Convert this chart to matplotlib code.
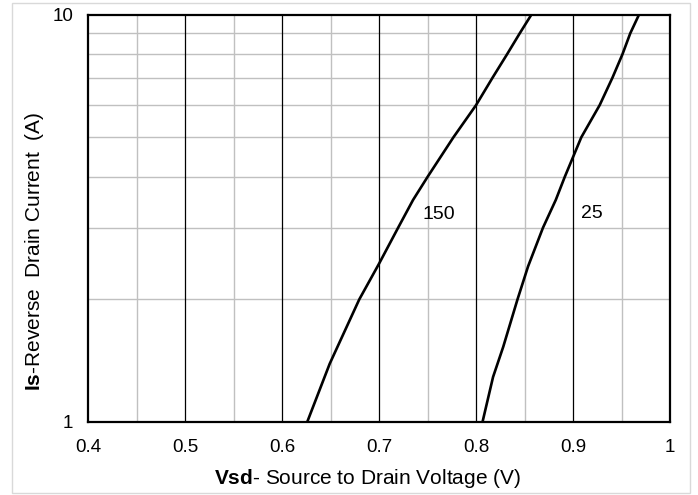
import matplotlib
matplotlib.use("Agg")
import matplotlib.pyplot as plt
from matplotlib.patches import Rectangle
from matplotlib.ticker import FixedLocator, NullFormatter

plt.rcParams['font.family'] = ['Liberation Sans', 'DejaVu Sans']
plt.rcParams['mathtext.fontset'] = 'custom'
plt.rcParams['mathtext.rm'] = 'Liberation Sans'
plt.rcParams['mathtext.bf'] = 'Liberation Sans:bold'

# Data
v_150 = [0.6258, 0.649, 0.6795, 0.700, 0.7196, 0.735, 0.750, 0.7766, 0.800, 0.8169, 0.832, 0.845, 0.857]
i_150 = [1.0, 1.39, 2.0, 2.45, 3.0, 3.51, 4.0, 5.0, 6.0, 7.0, 8.0, 9.0, 10.0]
v_25 = [0.8066, 0.8175, 0.828, 0.8427, 0.8536, 0.869, 0.8822, 0.8915, 0.9085, 0.9275, 0.9406, 0.951, 0.959, 0.968]
i_25 = [1.0, 1.29, 1.53, 2.0, 2.41, 3.0, 3.51, 4.0, 5.0, 6.0, 7.0, 8.0, 9.0, 10.0]
x_ticks = [0.4, 0.5, 0.6, 0.7, 0.8, 0.9, 1.0]
x_tick_labels = ["0.4", "0.5", "0.6", "0.7", "0.8", "0.9", "1"]
x_minor = [0.45, 0.55, 0.65, 0.75, 0.85, 0.95]
y_ticks = [1, 10]
y_tick_labels = ["1", "10"]
y_minor = [2, 3, 4, 5, 6, 7, 8, 9]
curve_labels = [("150", 0.7615, 3.24), ("25", 0.919, 3.25)]
x_label = r"$\bf{Vsd}$- Source to Drain Voltage (V)"
y_label = r"$\bf{Is}$-Reverse  Drain Current  (A)"

fig = plt.figure(figsize=(6.98, 4.95), dpi=100)
fig.patches.append(Rectangle((12/698, 1 - 493/495), (690-12)/698, (493-3)/495,
                             transform=fig.transFigure, fill=False,
                             edgecolor='#d9d9d9', linewidth=1.0))

ax = fig.add_axes([88.3/698, 1 - 422/495, (670-88.3)/698, (422-14.7)/495])
ax.set_xlim(0.4, 1.0)
ax.set_yscale('log')
ax.set_ylim(1, 10)

# grid lines
for xm in x_minor:
    ax.axvline(xm, color='#c0c0c0', lw=1.0, zorder=1)
for ym in y_minor:
    ax.axhline(ym, color='#c0c0c0', lw=1.0, zorder=1)
for xt in x_ticks[1:-1]:
    ax.axvline(xt, color='black', lw=0.9, zorder=2)

ax.plot(v_150, i_150, color='black', lw=1.9, zorder=3, solid_joinstyle='round')
ax.plot(v_25, i_25, color='black', lw=1.9, zorder=3, solid_joinstyle='round')

for txt, xv, yv in curve_labels:
    ax.text(xv, yv, txt, fontsize=14, ha='center', va='center', zorder=4)

ax.xaxis.set_major_locator(FixedLocator(x_ticks))
ax.set_xticklabels(x_tick_labels)
ax.xaxis.set_minor_locator(FixedLocator([]))
ax.yaxis.set_major_locator(FixedLocator(y_ticks))
ax.set_yticklabels(y_tick_labels)
ax.yaxis.set_minor_locator(FixedLocator([]))
ax.yaxis.set_minor_formatter(NullFormatter())
ax.tick_params(axis='x', length=0, pad=12, labelsize=13.5)
ax.tick_params(axis='y', length=0, pad=11, labelsize=13.5)

for s in ax.spines.values():
    s.set_linewidth(1.6)
    s.set_color('black')
    s.set_zorder(5)

fig.text(367/698, 1 - 478/495, x_label, fontsize=15, ha='center', va='center')
fig.text(35/698, 1 - 251.7/495, y_label, fontsize=15, ha='center', va='center', rotation=90)

fig.savefig("out.png", dpi=100)
